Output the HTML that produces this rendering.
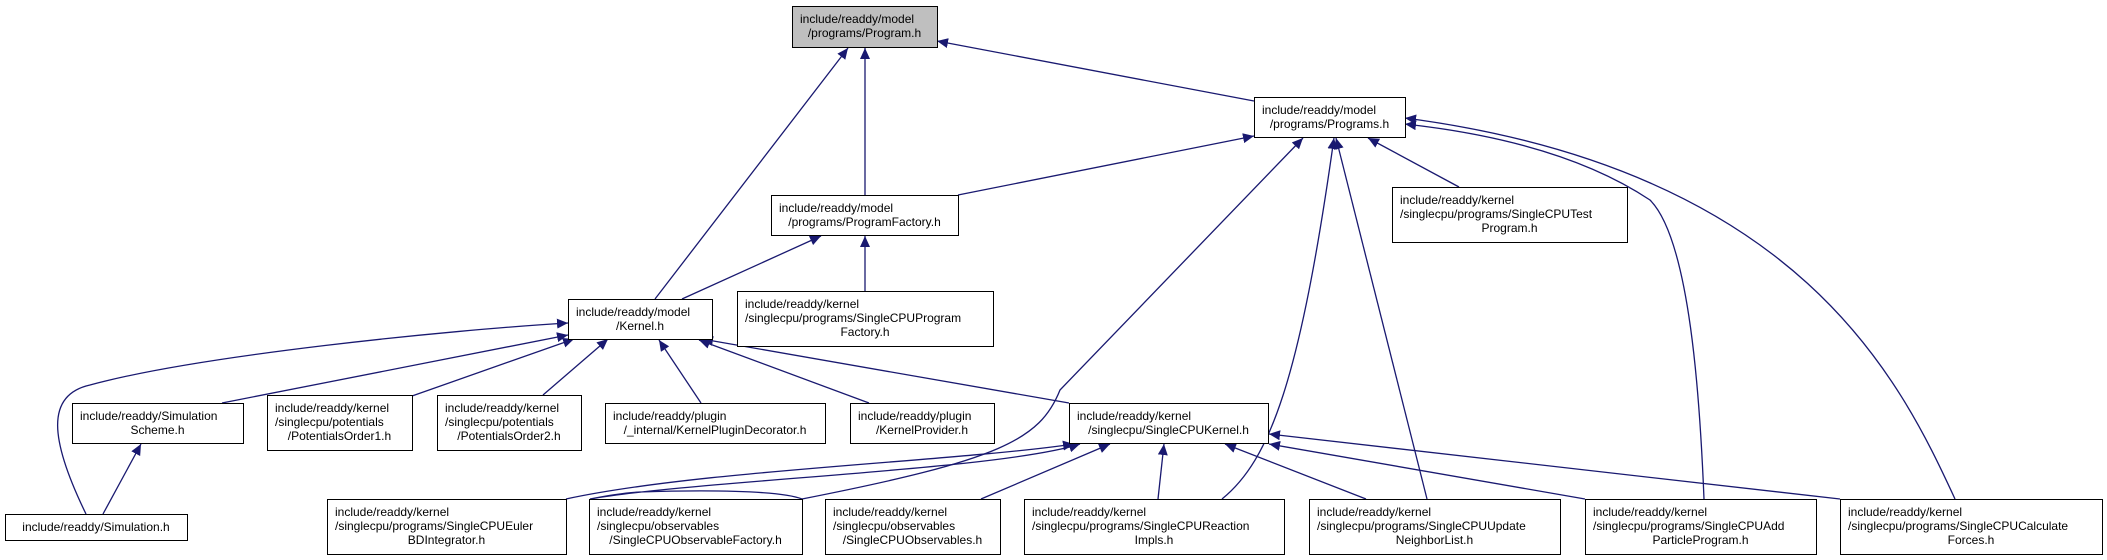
<!DOCTYPE html>
<html><head><meta charset="utf-8"><style>
html,body{margin:0;padding:0;background:#fff;}
svg{display:block;}
text{font-family:"Liberation Sans",sans-serif;font-size:12px;fill:#000;}
</style></head><body>
<svg id="g" width="2107" height="560" xmlns="http://www.w3.org/2000/svg">
<defs><marker id="a" markerUnits="userSpaceOnUse" markerWidth="12" markerHeight="10" refX="11" refY="5" orient="auto"><path d="M0,0 L11,5 L0,10 z" fill="#191970"/></marker></defs>
<g fill="none" stroke="#191970" stroke-width="1.3" marker-end="url(#a)">
<path d="M1254,101 L937,41"/>
<path d="M865,195 L865,48"/>
<path d="M655,299 L848,48"/>
<path d="M958,195 L1254,136"/>
<path d="M682,299 L821,236"/>
<path d="M865,291 L865,236"/>
<path d="M1459,187 L1368,138"/>
<path d="M802,499 C1000,460 1040,440 1060,390 L1303,138"/>
<path d="M1222,499 C1270,460 1300,380 1334,138"/>
<path d="M1427,499 L1336,138"/>
<path d="M1704,499 C1700,400 1690,240 1650,200 C1620,180 1550,140 1405,124"/>
<path d="M1955,499 C1900,380 1800,170 1405,118"/>
<path d="M222,403 L568,335"/>
<path d="M86,514 C50,440 45,395 90,385 C200,355 450,330 568,323"/>
<path d="M412,396 L574,339"/>
<path d="M543,395 L608,339"/>
<path d="M701,403 L659,340"/>
<path d="M869,403 L699,340"/>
<path d="M1069,403 L702,339"/>
<path d="M103,514 L141,444"/>
<path d="M566,499 C700,470 950,462 1074,444"/>
<path d="M802,499 C780,490 700,490 640,492 C620,493 600,497 590,499 M590,499 C700,480 1000,470 1080,444"/>
<path d="M981,499 L1110,444"/>
<path d="M1158,499 L1164,444"/>
<path d="M1366,499 L1225,444"/>
<path d="M1585,499 L1269,444"/>
<path d="M1840,499 L1269,434"/>
</g>
<g id="boxes"></g>
</svg>
<script>
var B=[
[792,6,145,41,["include/readdy/model","/programs/Program.h"],1],
[771,195,187,40,["include/readdy/model","/programs/ProgramFactory.h"]],
[1254,97,151,40,["include/readdy/model","/programs/Programs.h"]],
[1392,187,235,55,["include/readdy/kernel","/singlecpu/programs/SingleCPUTest","Program.h"]],
[568,299,144,40,["include/readdy/model","/Kernel.h"]],
[737,291,256,55,["include/readdy/kernel","/singlecpu/programs/SingleCPUProgram","Factory.h"]],
[72,403,171,40,["include/readdy/Simulation","Scheme.h"]],
[267,395,145,55,["include/readdy/kernel","/singlecpu/potentials","/PotentialsOrder1.h"]],
[437,395,144,55,["include/readdy/kernel","/singlecpu/potentials","/PotentialsOrder2.h"]],
[605,403,220,40,["include/readdy/plugin","/_internal/KernelPluginDecorator.h"]],
[850,403,144,40,["include/readdy/plugin","/KernelProvider.h"]],
[5,514,182,26,["include/readdy/Simulation.h"]],
[327,499,239,55,["include/readdy/kernel","/singlecpu/programs/SingleCPUEuler","BDIntegrator.h"]],
[589,499,213,55,["include/readdy/kernel","/singlecpu/observables","/SingleCPUObservableFactory.h"]],
[825,499,175,55,["include/readdy/kernel","/singlecpu/observables","/SingleCPUObservables.h"]],
[1069,403,199,40,["include/readdy/kernel","/singlecpu/SingleCPUKernel.h"]],
[1024,499,260,55,["include/readdy/kernel","/singlecpu/programs/SingleCPUReaction","Impls.h"]],
[1309,499,251,55,["include/readdy/kernel","/singlecpu/programs/SingleCPUUpdate","NeighborList.h"]],
[1585,499,231,55,["include/readdy/kernel","/singlecpu/programs/SingleCPUAdd","ParticleProgram.h"]],
[1840,499,262,55,["include/readdy/kernel","/singlecpu/programs/SingleCPUCalculate","Forces.h"]]
];
var g=document.getElementById('boxes'),ns="http://www.w3.org/2000/svg",h="";
B.forEach(function(b){
 h+='<rect x="'+(b[0]+0.5)+'" y="'+(b[1]+0.5)+'" width="'+b[2]+'" height="'+b[3]+'" fill="'+(b[5]?'#bfbfbf':'#fff')+'" stroke="#000" stroke-width="1"/>';
 var n=b[4].length;
 b[4].forEach(function(t,i){
  var y=b[1]+(n==1?17:17+i*14);
  var last=(i==n-1);
  if(last&&n>1||n==1) h+='<text x="'+(b[0]+b[2]/2)+'" y="'+y+'" text-anchor="middle">'+t+'</text>';
  else h+='<text x="'+(b[0]+8)+'" y="'+y+'">'+t+'</text>';
 });
});
g.innerHTML=h;
</script>
</body></html>
